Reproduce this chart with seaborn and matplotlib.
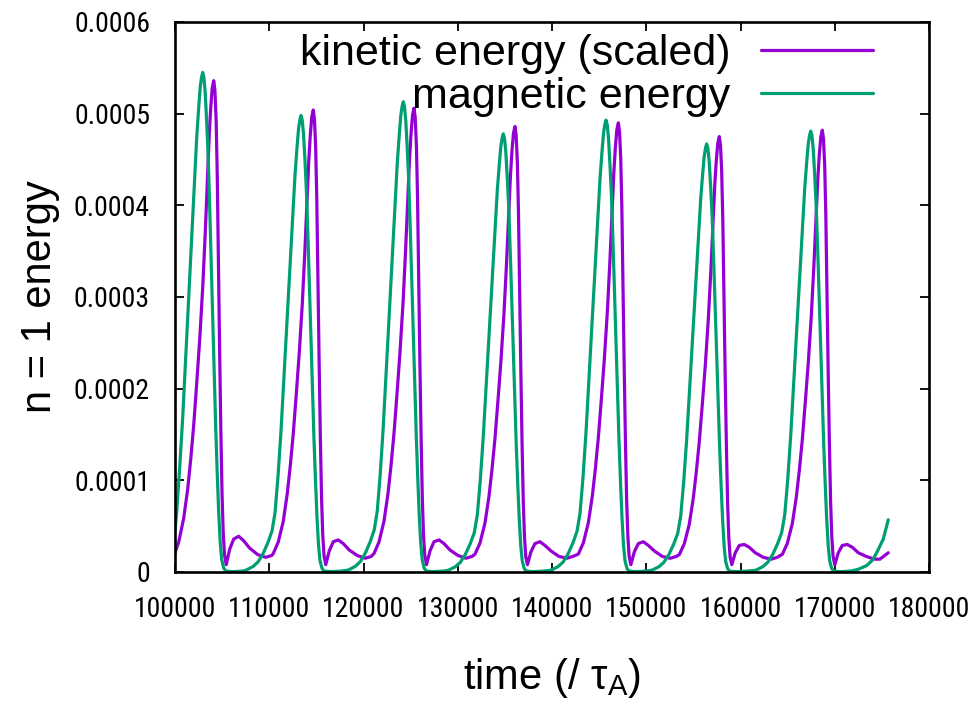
import matplotlib
matplotlib.use("Agg")
import matplotlib.pyplot as plt
import numpy as np
import pandas as pd
import seaborn as sns
from matplotlib import font_manager

# ---------------- data (energy values in units of 1e-4) ----------------
mag_t_c1 = [100000, 100184, 100502, 100820, 101138, 101456, 101774, 102092, 102304, 102516, 102675, 102813, 102940,
            103067, 103205, 103364, 103523, 103682, 103841, 104000, 104159, 104318, 104477, 104636, 104795, 104954,
            105166, 105378, 106120, 107180]
mag_e_c1 = [0.45, 0.66, 1.145, 1.690, 2.344, 2.998, 3.652, 4.306, 4.742, 5.069, 5.287, 5.396, 5.45,
            5.396, 5.232, 4.905, 4.524, 3.979, 3.379, 2.780, 2.18, 1.581, 1.09, 0.654, 0.327, 0.136,
            0.044, 0.011, 0.004, 0.010]
mag_t_c2 = [107540, 108282, 108812, 109342, 109872, 110296, 110614, 110932, 111250, 111568, 111886, 112204, 112522,
            112734, 112946, 113105, 113243, 113370, 113497, 113635, 113794, 113953, 114112, 114271, 114430, 114589,
            114748, 114907, 115066, 115225, 115384, 115596, 115808, 116550, 117610]
mag_e_c2 = [0.020, 0.060, 0.110, 0.199, 0.324, 0.448, 0.647, 1.046, 1.544, 2.141, 2.739, 3.337, 3.934,
            4.333, 4.631, 4.831, 4.930, 4.98, 4.930, 4.781, 4.482, 4.133, 3.635, 3.088, 2.540, 1.992,
            1.444, 0.996, 0.598, 0.299, 0.125, 0.040, 0.010, 0.004, 0.010]
mag_t_c3 = [118390, 119132, 119662, 120192, 120722, 121146, 121464, 121782, 122100, 122418, 122736, 123054, 123372,
            123584, 123796, 123955, 124093, 124220, 124347, 124485, 124644, 124803, 124962, 125121, 125280, 125439,
            125598, 125757, 125916, 126075, 126234, 126446, 126658, 127400, 128460]
mag_e_c3 = [0.021, 0.062, 0.113, 0.205, 0.333, 0.462, 0.667, 1.077, 1.590, 2.206, 2.822, 3.437, 4.053,
            4.463, 4.771, 4.976, 5.079, 5.13, 5.079, 4.925, 4.617, 4.258, 3.745, 3.181, 2.616, 2.052,
            1.488, 1.026, 0.616, 0.308, 0.128, 0.041, 0.010, 0.004, 0.010]
mag_t_c4 = [129000, 129742, 130272, 130802, 131332, 131756, 132074, 132392, 132710, 133028, 133346, 133664, 133982,
            134194, 134406, 134565, 134703, 134830, 134957, 135095, 135254, 135413, 135572, 135731, 135890, 136049,
            136208, 136367, 136526, 136685, 136844, 137056, 137268, 138010, 139070]
mag_e_c4 = [0.019, 0.057, 0.105, 0.191, 0.311, 0.430, 0.621, 1.004, 1.482, 2.055, 2.629, 3.203, 3.776,
            4.159, 4.445, 4.637, 4.732, 4.78, 4.732, 4.589, 4.302, 3.967, 3.489, 2.964, 2.438, 1.912,
            1.386, 0.956, 0.574, 0.287, 0.120, 0.038, 0.010, 0.004, 0.010]
mag_t_c5 = [139900, 140642, 141172, 141702, 142232, 142656, 142974, 143292, 143610, 143928, 144246, 144564, 144882,
            145094, 145306, 145465, 145603, 145730, 145857, 145995, 146154, 146313, 146472, 146631, 146790, 146949,
            147108, 147267, 147426, 147585, 147744, 147956, 148168, 148910, 149970]
mag_e_c5 = [0.020, 0.059, 0.108, 0.197, 0.320, 0.444, 0.641, 1.035, 1.528, 2.120, 2.712, 3.303, 3.895,
            4.289, 4.585, 4.782, 4.881, 4.93, 4.881, 4.733, 4.437, 4.092, 3.599, 3.057, 2.514, 1.972,
            1.430, 0.986, 0.592, 0.296, 0.123, 0.039, 0.010, 0.004, 0.010]
mag_t_c6 = [150580, 151322, 151852, 152382, 152912, 153336, 153654, 153972, 154290, 154608, 154926, 155244, 155562,
            155774, 155986, 156145, 156283, 156410, 156537, 156675, 156834, 156993, 157152, 157311, 157470, 157629,
            157788, 157947, 158106, 158265, 158424, 158636, 158848, 159590, 160650]
mag_e_c6 = [0.019, 0.056, 0.103, 0.187, 0.304, 0.420, 0.607, 0.981, 1.448, 2.008, 2.569, 3.129, 3.689,
            4.063, 4.343, 4.530, 4.623, 4.67, 4.623, 4.483, 4.203, 3.876, 3.409, 2.895, 2.382, 1.868,
            1.354, 0.934, 0.560, 0.280, 0.117, 0.037, 0.009, 0.004, 0.010]
mag_t_c7 = [161620, 162362, 162892, 163422, 163952, 164376, 164694, 165012, 165330, 165648, 165966, 166284, 166602,
            166814, 167026, 167185, 167323, 167450, 167577, 167715, 167874, 168033, 168192, 168351, 168510, 168669,
            168828, 168987, 169146, 169305, 169464, 169676, 169888, 170630, 171690,
            172500, 173390, 174000, 174450, 175150, 175680]
mag_e_c7 = [0.019, 0.058, 0.106, 0.192, 0.313, 0.433, 0.625, 1.010, 1.491, 2.068, 2.646, 3.223, 3.800,
            4.185, 4.473, 4.666, 4.762, 4.81, 4.762, 4.618, 4.329, 3.992, 3.511, 2.982, 2.453, 1.924,
            1.395, 0.962, 0.577, 0.289, 0.120, 0.038, 0.010, 0.004, 0.010,
            0.03, 0.07, 0.13, 0.21, 0.36, 0.57]

kin_t_c1 = [100000, 100400, 100930, 101354, 101672, 101990, 102308, 102626, 102944, 103209, 103421, 103633, 103792,
            103951, 104110, 104237, 104364, 104481, 104608, 104735, 104863, 104990, 105117, 105255, 105435, 105806,
            106230, 106760, 107290, 107926, 108774, 109622, 110258]
kin_e_c1 = [0.21, 0.33, 0.590, 0.911, 1.233, 1.608, 2.064, 2.546, 3.109, 3.698, 4.234, 4.770, 5.065,
            5.280, 5.36, 5.253, 4.931, 4.342, 3.377, 2.412, 1.554, 0.858, 0.429, 0.188, 0.08, 0.25,
            0.36, 0.39, 0.34, 0.26, 0.19, 0.16, 0.18]
kin_t_c2 = [110430, 110960, 111490, 111914, 112232, 112550, 112868, 113186, 113504, 113769, 113981, 114193, 114352,
            114511, 114670, 114797, 114924, 115041, 115168, 115295, 115423, 115550, 115677, 115815, 115995, 116366,
            116790, 117320, 117850, 118486, 119334, 120182, 120818]
kin_e_c2 = [0.202, 0.328, 0.554, 0.857, 1.159, 1.512, 1.940, 2.394, 2.923, 3.478, 3.982, 4.486, 4.763,
            4.964, 5.04, 4.939, 4.637, 4.082, 3.175, 2.268, 1.462, 0.806, 0.403, 0.176, 0.08, 0.23,
            0.33, 0.35, 0.31, 0.24, 0.18, 0.15, 0.17]
kin_t_c3 = [121120, 121650, 122180, 122604, 122922, 123240, 123558, 123876, 124194, 124459, 124671, 124883, 125042,
            125201, 125360, 125487, 125614, 125731, 125858, 125985, 126113, 126240, 126367, 126505, 126685, 127056,
            127480, 128010, 128540, 129176, 130024, 130872, 131508]
kin_e_c3 = [0.202, 0.329, 0.557, 0.860, 1.164, 1.518, 1.948, 2.404, 2.935, 3.491, 3.997, 4.503, 4.782,
            4.984, 5.06, 4.959, 4.655, 4.099, 3.188, 2.277, 1.467, 0.810, 0.405, 0.177, 0.08, 0.23,
            0.33, 0.35, 0.31, 0.24, 0.18, 0.15, 0.17]
kin_t_c4 = [131830, 132360, 132890, 133314, 133632, 133950, 134268, 134586, 134904, 135169, 135381, 135593, 135752,
            135911, 136070, 136197, 136324, 136441, 136568, 136695, 136823, 136950, 137077, 137215, 137395, 137766,
            138190, 138720, 139250, 139886, 140734, 141582, 142218]
kin_e_c4 = [0.194, 0.316, 0.535, 0.826, 1.118, 1.458, 1.871, 2.309, 2.819, 3.353, 3.839, 4.325, 4.593,
            4.787, 4.86, 4.763, 4.471, 3.937, 3.062, 2.187, 1.409, 0.778, 0.389, 0.170, 0.08, 0.22,
            0.31, 0.33, 0.29, 0.23, 0.17, 0.15, 0.17]
kin_t_c5 = [142800, 143330, 143860, 144284, 144602, 144920, 145238, 145556, 145874, 146139, 146351, 146563, 146722,
            146881, 147040, 147167, 147294, 147411, 147538, 147665, 147793, 147920, 148047, 148185, 148365, 148736,
            149160, 149690, 150220, 150856, 151704, 152552, 153188]
kin_e_c5 = [0.196, 0.319, 0.539, 0.833, 1.127, 1.470, 1.887, 2.328, 2.842, 3.381, 3.871, 4.361, 4.631,
            4.827, 4.90, 4.802, 4.508, 3.969, 3.087, 2.205, 1.421, 0.784, 0.392, 0.172, 0.08, 0.22,
            0.31, 0.33, 0.29, 0.23, 0.17, 0.15, 0.17]
kin_t_c6 = [153510, 154040, 154570, 154994, 155312, 155630, 155948, 156266, 156584, 156849, 157061, 157273, 157432,
            157591, 157750, 157877, 158004, 158121, 158248, 158375, 158503, 158630, 158757, 158895, 159075, 159446,
            159870, 160400, 160930, 161566, 162414, 163262, 163898]
kin_e_c6 = [0.19, 0.309, 0.523, 0.808, 1.093, 1.425, 1.829, 2.256, 2.755, 3.278, 3.753, 4.228, 4.489,
            4.679, 4.75, 4.655, 4.37, 3.848, 2.993, 2.138, 1.378, 0.76, 0.38, 0.166, 0.08, 0.21,
            0.29, 0.30, 0.27, 0.21, 0.16, 0.14, 0.16]
kin_t_c7 = [164440, 164970, 165500, 165924, 166242, 166560, 166878, 167196, 167514, 167779, 167991, 168203, 168362,
            168521, 168680, 168807, 168934, 169051, 169178, 169305, 169433, 169560, 169687, 169825, 170005, 170376,
            170800, 171330, 171860, 172496, 173344, 174192, 174800, 175680]
kin_e_c7 = [0.193, 0.313, 0.530, 0.819, 1.109, 1.446, 1.856, 2.290, 2.796, 3.326, 3.808, 4.290, 4.555,
            4.748, 4.82, 4.724, 4.434, 3.904, 3.037, 2.169, 1.398, 0.771, 0.386, 0.169, 0.08, 0.21,
            0.29, 0.30, 0.27, 0.21, 0.17, 0.14, 0.14, 0.21]

series_labels = ["kinetic energy (scaled)", "magnetic energy"]
series_colors = ["#9400D3", "#009E73"]
x_ticks = [100000, 110000, 120000, 130000, 140000, 150000, 160000, 170000, 180000]
x_tick_labels = ["100000", "110000", "120000", "130000", "140000", "150000", "160000", "170000", "180000"]
y_ticks = [0, 0.0001, 0.0002, 0.0003, 0.0004, 0.0005, 0.0006]
y_tick_labels = ["0", "0.0001", "0.0002", "0.0003", "0.0004", "0.0005", "0.0006"]

# ---------------- build table ----------------
kin_t = kin_t_c1 + kin_t_c2 + kin_t_c3 + kin_t_c4 + kin_t_c5 + kin_t_c6 + kin_t_c7
kin_e = kin_e_c1 + kin_e_c2 + kin_e_c3 + kin_e_c4 + kin_e_c5 + kin_e_c6 + kin_e_c7
mag_t = mag_t_c1 + mag_t_c2 + mag_t_c3 + mag_t_c4 + mag_t_c5 + mag_t_c6 + mag_t_c7
mag_e = mag_e_c1 + mag_e_c2 + mag_e_c3 + mag_e_c4 + mag_e_c5 + mag_e_c6 + mag_e_c7

df = pd.concat([
    pd.DataFrame({"time": kin_t, "energy": np.array(kin_e) * 1e-4, "series": series_labels[0]}),
    pd.DataFrame({"time": mag_t, "energy": np.array(mag_e) * 1e-4, "series": series_labels[1]}),
], ignore_index=True)

# ---------------- style ----------------
sns.set_style("ticks")
names = {f.name for f in font_manager.fontManager.ttflist}
main_family = ["Liberation Sans", "DejaVu Sans"]
tick_family, tick_size = main_family, 19
for cand in ["Liberation Sans Narrow", "Roboto Condensed", "Open Sans Condensed", "Arial Narrow"]:
    if cand in names:
        tick_family, tick_size = [cand, "Liberation Sans", "DejaVu Sans"], 20
        break
plt.rcParams["font.family"] = main_family
plt.rcParams["text.color"] = "black"
plt.rcParams["axes.labelcolor"] = "black"
plt.rcParams["mathtext.fontset"] = "custom"
plt.rcParams["mathtext.rm"] = "Liberation Sans"

fig = plt.figure(figsize=(9.74, 7.03), dpi=100)
ax = fig.add_axes([175 / 974, 1 - 572 / 703, (929 - 175) / 974, (572 - 22) / 703])

sns.lineplot(data=df, x="time", y="energy", hue="series", hue_order=series_labels,
             palette=dict(zip(series_labels, series_colors)), sort=False, estimator=None,
             linewidth=2.3, ax=ax, legend=False)
for ln in ax.lines:
    ln.set_solid_joinstyle("round")
    ln.set_solid_capstyle("round")

ax.set_xlim(100000, 180000)
ax.set_ylim(0, 0.0006)
ax.set_xticks(x_ticks)
ax.set_xticklabels(x_tick_labels)
ax.set_yticks(y_ticks)
ax.set_yticklabels(y_tick_labels)
for lab in ax.get_xticklabels() + ax.get_yticklabels():
    lab.set_family(tick_family)
    lab.set_fontsize(tick_size)
    lab.set_color("black")

ax.tick_params(direction="in", top=True, right=True, length=6.5, width=1.3, color="black")
ax.tick_params(axis="y", pad=18)
ax.tick_params(axis="x", pad=17)
for sp in ax.spines.values():
    sp.set_visible(True)
    sp.set_linewidth(1.9)
    sp.set_color("black")

ax.set_xlabel("time (/ τ$_\\mathregular{A}$)", fontsize=30, labelpad=24, color="black")
ax.set_ylabel("n = 1 energy", fontsize=30, labelpad=10, color="black")

leg = ax.legend(handles=ax.lines[:2], labels=series_labels, loc="upper right",
                bbox_to_anchor=(873 / 974, 1 - 34 / 703), bbox_transform=fig.transFigure,
                frameon=False, markerfirst=False, fontsize=31, handlelength=2.6,
                handletextpad=0.72, labelspacing=0.06, borderpad=0, borderaxespad=0)
for t in leg.get_texts():
    t.set_color("black")

fig.savefig("out.png", dpi=100, facecolor="white")
